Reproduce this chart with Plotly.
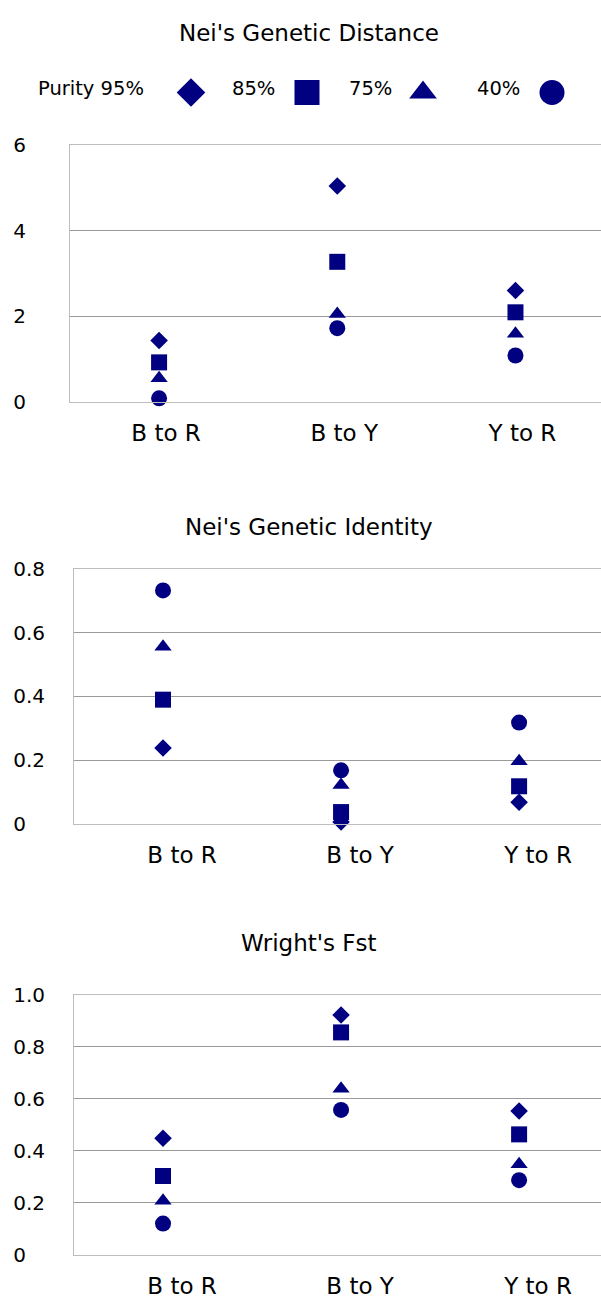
import plotly.graph_objects as go

# ---------------- data ----------------
categories = ["B to R", "B to Y", "Y to R"]
purity_labels = ["Purity 95%", "85%", "75%", "40%"]
symbols = ["diamond", "square", "triangle-up", "circle"]

distance_95 = [1.43, 5.04, 2.60]
distance_85 = [0.92, 3.27, 2.09]
distance_75 = [0.55, 2.05, 1.59]
distance_40 = [0.08, 1.72, 1.08]

identity_95 = [0.238, 0.006, 0.068]
identity_85 = [0.390, 0.037, 0.118]
identity_75 = [0.556, 0.122, 0.197]
identity_40 = [0.733, 0.168, 0.318]

fst_95 = [0.448, 0.922, 0.553]
fst_85 = [0.303, 0.855, 0.463]
fst_75 = [0.208, 0.638, 0.348]
fst_40 = [0.120, 0.557, 0.287]

panel_titles = ["Nei's Genetic Distance", "Nei's Genetic Identity", "Wright's Fst"]
distance_ticks = [0, 2, 4, 6]
identity_ticks = [0, 0.2, 0.4, 0.6, 0.8]
fst_ticks = [0, 0.2, 0.4, 0.6, 0.8, 1.0]
NB = "\u00a0"
distance_ticktext = ["0", "2", "4", "6"]
identity_ticktext = ["0" + NB * 3, "0.2", "0.4", "0.6", "0.8"]
fst_ticktext = ["0" + NB * 3, "0.2", "0.4", "0.6", "0.8", "1.0"]

# ---------------- layout constants ----------------
W, H = 601, 1311
NAVY = "#000080"
FONT = "DejaVu Sans"
GRID = "#9a9a9a"
BORDER = "#bdbdbd"
plot_sizes = [13.5, 16, 15, 16]
legend_sizes = [22, 25, 24, 25]
LEGEND_KEY_X = [191, 307, 423, 552]
LEGEND_KEY_Y = 82
LEGEND_TEXT_X = [36, 230, 347, 475]
LEGEND_TEXT_Y = 78

def py(pix):
    return 1 - pix / H

panels = [
    dict(series=[distance_95, distance_85, distance_75, distance_40],
         left=70, top=135.5, bottom=397, rng=[0, 6], xr=[-0.5, 2.48],
         ticks=distance_ticks, ticktext=distance_ticktext, ystand=39,
         xshift=7, title_y=21),
    dict(series=[identity_95, identity_85, identity_75, identity_40],
         left=74, top=567.5, bottom=827, rng=[0, 0.8], xr=[-0.5, 2.46],
         ticks=identity_ticks, ticktext=identity_ticktext, ystand=24,
         xshift=19, title_y=525),
    dict(series=[fst_95, fst_85, fst_75, fst_40],
         left=74, top=1001, bottom=1266, rng=[0, 1.0], xr=[-0.5, 2.46],
         ticks=fst_ticks, ticktext=fst_ticktext, ystand=24,
         xshift=19, title_y=948),
]

fig = go.Figure()
annotations = []

# legend keys on a pixel-based helper axis (added first so it sits underneath)
fig.add_trace(go.Scatter(
    x=LEGEND_KEY_X, y=[LEGEND_KEY_Y] * 4, mode="markers", showlegend=False,
    xaxis="x4", yaxis="y4", cliponaxis=False, hoverinfo="skip",
    marker=dict(symbol=symbols, size=legend_sizes, color=NAVY, opacity=1,
                line=dict(width=0)),
))

for i, p in enumerate(panels, start=1):
    xa = "x" if i == 1 else f"x{i}"
    ya = "y" if i == 1 else f"y{i}"
    for vals, sym, sz, name in zip(p["series"], symbols, plot_sizes, purity_labels):
        fig.add_trace(go.Scatter(
            x=categories, y=vals, mode="markers", name=name, showlegend=False,
            xaxis=xa, yaxis=ya, cliponaxis=False,
            marker=dict(symbol=sym, size=sz, color=NAVY, opacity=1,
                        line=dict(width=0)),
        ))
    xkey = "xaxis" if i == 1 else f"xaxis{i}"
    ykey = "yaxis" if i == 1 else f"yaxis{i}"
    fig.update_layout(**{
        xkey: dict(domain=[p["left"] / W, 1], type="category",
                   categoryorder="array", categoryarray=categories,
                   range=p["xr"], showgrid=False, zeroline=False,
                   showline=True, linecolor=BORDER, linewidth=1, mirror=True,
                   ticks="", ticklabelshift=p["xshift"], ticklabelstandoff=11,
                   tickfont=dict(family=FONT, size=23, color="black"),
                   anchor=ya, fixedrange=True),
        ykey: dict(domain=[py(p["bottom"]), py(p["top"])], range=p["rng"],
                   tickvals=p["ticks"], ticktext=p["ticktext"],
                   showgrid=True, gridcolor=GRID, gridwidth=1, zeroline=False,
                   showline=True, linecolor=BORDER, linewidth=1,
                   ticks="", ticklabelstandoff=p["ystand"],
                   tickfont=dict(family=FONT, size=20, color="black"),
                   anchor=xa, fixedrange=True),
    })
    annotations.append(dict(
        text=panel_titles[i - 1], xref="paper", yref="paper",
        x=309 / W, y=py(p["title_y"]), xanchor="center", yanchor="middle",
        showarrow=False, font=dict(family=FONT, size=23, color="black")))

fig.update_layout(
    xaxis4=dict(domain=[0, 1], range=[0, W], visible=False, anchor="y4",
                fixedrange=True, showgrid=False),
    yaxis4=dict(domain=[0, 1], range=[H, 0], visible=False, anchor="x4",
                fixedrange=True, showgrid=False),
)
for tx, lab in zip(LEGEND_TEXT_X, purity_labels):
    annotations.append(dict(
        text=lab, xref="paper", yref="paper", x=tx / W, y=py(LEGEND_TEXT_Y),
        xanchor="left", yanchor="middle", showarrow=False,
        font=dict(family=FONT, size=19.5, color="black")))

fig.update_layout(
    width=W, height=H, margin=dict(l=0, r=0, t=0, b=0),
    paper_bgcolor="white", plot_bgcolor="rgba(0,0,0,0)",
    annotations=annotations, showlegend=False,
)

fig.write_html("out.html")
